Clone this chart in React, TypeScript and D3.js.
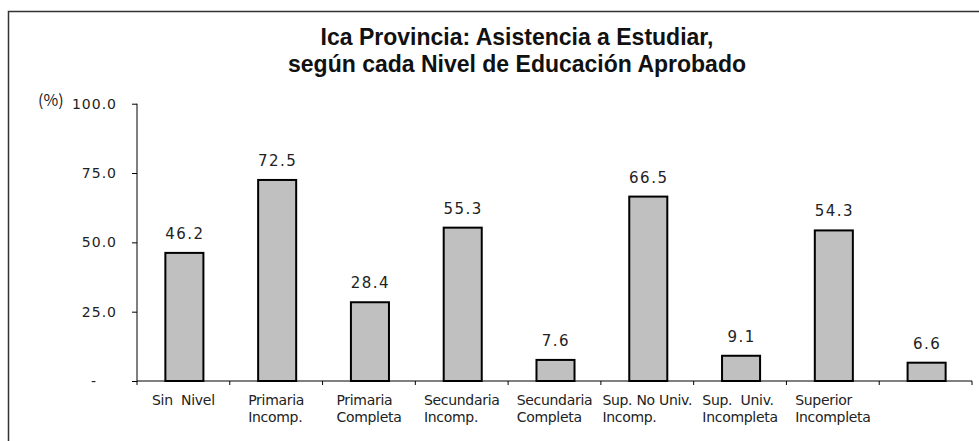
import React, { useEffect, useRef } from "react";
import * as d3 from "d3";

const categories: string[][] = [
  ["Sin  Nivel"],
  ["Primaria", "Incomp."],
  ["Primaria", "Completa"],
  ["Secundaria", "Incomp."],
  ["Secundaria", "Completa"],
  ["Sup. No Univ.", "Incomp."],
  ["Sup.  Univ.", "Incompleta"],
  ["Superior", "Incompleta"],
  [""],
];
const values: number[] = [46.2, 72.5, 28.4, 55.3, 7.6, 66.5, 9.1, 54.3, 6.6];
const yTicks: number[] = [0, 25, 50, 75, 100];
const titleLines: string[] = [
  "Ica Provincia: Asistencia a Estudiar,",
  "según cada Nivel de Educación Aprobado",
];
const unitLabel = "(%)";

export default function App() {
  const ref = useRef<SVGSVGElement | null>(null);

  useEffect(() => {
    const svg = d3.select(ref.current);
    svg.selectAll("*").remove();

    const x0 = 137, x1 = 972, yTop = 103.7, yBase = 381;
    const x = d3
      .scaleBand<number>()
      .domain(values.map((_, i) => i))
      .range([x0, x1])
      .paddingInner(0.59)
      .paddingOuter(0.295);
    const y = d3.scaleLinear().domain([0, 100]).range([yBase, yTop]);

    // frame
    svg
      .append("rect")
      .attr("x", 8.5)
      .attr("y", 11.5)
      .attr("width", 1018)
      .attr("height", 460)
      .attr("fill", "white")
      .attr("stroke", "#333")
      .attr("stroke-width", 1.5);

    // title
    const title = svg
      .append("text")
      .attr("text-anchor", "middle")
      .attr("font-family", "'Liberation Sans', Arial, sans-serif")
      .attr("font-weight", "bold")
      .attr("font-size", 23)
      .attr("fill", "#111");
    titleLines.forEach((t, i) => {
      title
        .append("tspan")
        .attr("x", 517)
        .attr("y", 45 + i * 27)
        .text(t);
    });

    // y axis
    const yAxis = d3
      .axisLeft(y)
      .tickValues(yTicks)
      .tickSize(5)
      .tickPadding(15)
      .tickFormat((d) => ((d as number) === 0 ? "-" : d3.format(".1f")(d as number)));
    const gy = svg.append("g").attr("transform", `translate(${x0},0)`).call(yAxis);
    gy.select(".domain").attr("stroke", "#000").attr("d", `M-0,${yTop}V${yBase}`);
    gy.selectAll(".tick line").attr("stroke", "#000");
    gy.selectAll(".tick text")
      .attr("font-family", "'DejaVu Sans', sans-serif")
      .attr("font-size", 14)
      .attr("letter-spacing", 1)
      .attr("fill", "#222")
      .attr("dx", (d) => ((d as number) === 0 ? -20 : 0));

    svg
      .append("text")
      .attr("x", 38)
      .attr("y", 106)
      .attr("font-family", "'Noto Sans CJK JP', 'DejaVu Sans', sans-serif")
      .attr("font-size", 16)
      .attr("fill", "#222")
      .text(unitLabel);

    // x axis
    const step = x.step();
    const boundaries = d3.range(values.length + 1).map((i) => x0 + i * step);
    svg
      .append("line")
      .attr("x1", x0)
      .attr("x2", x1)
      .attr("y1", yBase)
      .attr("y2", yBase)
      .attr("stroke", "#000");
    svg
      .selectAll(".xt")
      .data(boundaries)
      .join("line")
      .attr("x1", (d) => d)
      .attr("x2", (d) => d)
      .attr("y1", yBase)
      .attr("y2", yBase + 4)
      .attr("stroke", "#000");

    // bars
    svg
      .selectAll(".bar")
      .data(values)
      .join("rect")
      .attr("x", (_, i) => x(i)! + 1)
      .attr("y", (d) => y(d))
      .attr("width", x.bandwidth())
      .attr("height", (d) => yBase - y(d))
      .attr("fill", "#c0c0c0")
      .attr("stroke", "#000")
      .attr("stroke-width", 2);

    // value labels
    svg
      .selectAll(".vl")
      .data(values)
      .join("text")
      .attr("x", (_, i) => x(i)! + x.bandwidth() / 2 + 1.5)
      .attr("y", (d) => y(d) - 14)
      .attr("text-anchor", "middle")
      .attr("font-family", "'DejaVu Sans', sans-serif")
      .attr("font-size", 15)
      .attr("letter-spacing", 1.5)
      .attr("fill", "#222")
      .text((d) => d3.format(".1f")(d));

    // category labels: left-aligned lines, block centered on band
    categories.forEach((lines, i) => {
      const cx = x(i)! + x.bandwidth() / 2;
      const t = svg
        .append("text")
        .attr("font-family", "'DejaVu Sans', sans-serif")
        .attr("font-size", 14)
        .attr("letter-spacing", -0.3)
        .attr("fill", "#222")
        .style("white-space", "pre");
      lines.forEach((ln, j) => {
        t.append("tspan").attr("x", 0).attr("y", 405 + j * 16.5).text(ln);
      });
      const w = (t.node() as SVGTextElement).getBBox().width;
      t.selectAll("tspan").attr("x", cx - w / 2);
    });
  }, []);

  return (
    <svg
      ref={ref}
      width={979}
      height={441}
      style={{ position: "absolute", left: 0, top: 0, display: "block", background: "white" }}
    />
  );
}
